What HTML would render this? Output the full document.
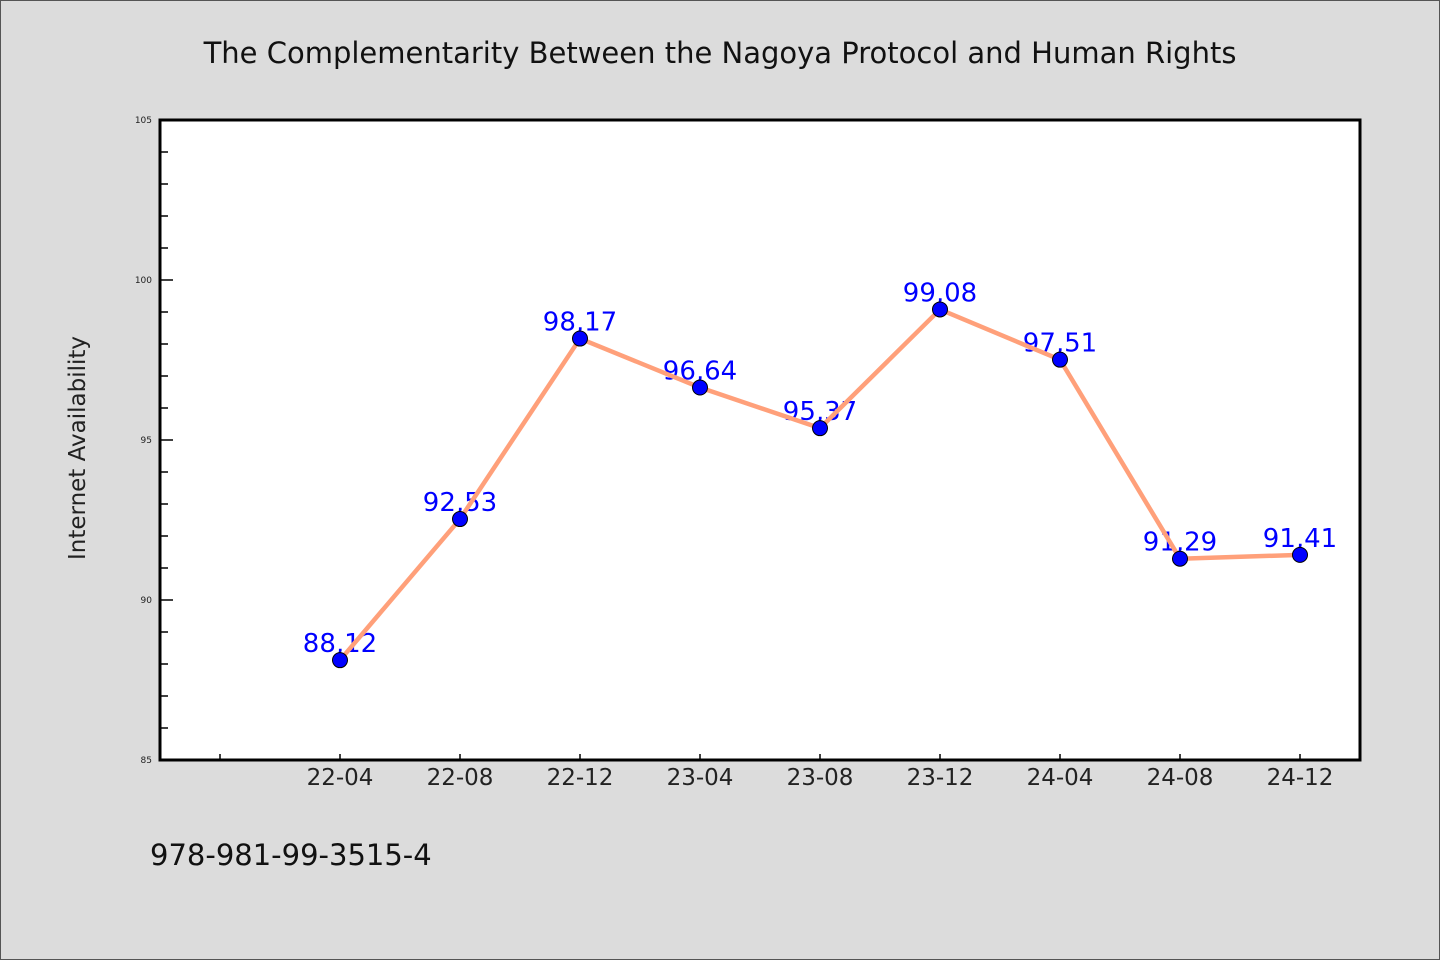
<!DOCTYPE html>
<html><head><meta charset="utf-8"><style>
html,body{margin:0;padding:0;background:#dcdcdc;}
svg{display:block;}
text{font-family:"DejaVu Sans","Liberation Sans",sans-serif;}
</style></head><body>
<svg id="chart" width="1440" height="960">
<rect x="0.5" y="0.5" width="1439" height="959" fill="#dcdcdc" stroke="#555"/>
<text x="720" y="63" text-anchor="middle" font-size="29" font-family="'DejaVu Sans Mono','Liberation Mono',monospace" fill="#111">The Complementarity Between the Nagoya Protocol and Human Rights</text>
<rect x="160" y="120" width="1200" height="640" fill="#fff"/>
<text transform="translate(85,448) rotate(-90)" text-anchor="middle" font-size="23" font-family="'DejaVu Sans Mono','Liberation Mono',monospace" fill="#222">Internet Availability</text>
<text x="150" y="865" font-size="29" fill="#111">978-981-99-3515-4</text>
<g id="axes"></g>
<g id="marks"></g>
<rect x="160" y="120" width="1200" height="640" fill="none" stroke="#000" stroke-width="3"/>
</svg>
<script>
const categories=["22-04","22-08","22-12","23-04","23-08","23-12","24-04","24-08","24-12"];
const values=[88.12,92.53,98.17,96.64,95.37,99.08,97.51,91.29,91.41];
const labels=["88.12","92.53","98.17","96.64","95.37","99.08","97.51","91.29","91.41"];
const yTicks=[85,90,95,100,105];
const NS="http://www.w3.org/2000/svg";
const yMin=85,yMax=105;
function y(v){return 760-(v-yMin)/(yMax-yMin)*640;}
function x(i){return 340+i*120;}
function mk(tag,attrs,parent){const e=document.createElementNS(NS,tag);for(const k in attrs)e.setAttribute(k,attrs[k]);parent.appendChild(e);return e;}
const axes=document.getElementById('axes'),marks=document.getElementById('marks');
for(let v=yMin;v<=yMax;v++){
  const major=yTicks.includes(v);
  const t=mk('line',{x1:160,x2:major?173:168,y1:y(v),y2:y(v),stroke:'#000','stroke-width':1.5},axes);
  
  
}
yTicks.forEach(v=>{
  const t=mk('text',{x:152,y:y(v)+3,'text-anchor':'end','font-size':9,fill:'#222'},axes);
  t.textContent=v;
  
  
});
for(let i=-1;i<categories.length;i++){
  const t=mk('line',{x1:x(i),x2:x(i),y1:760,y2:754,stroke:'#000','stroke-width':1.5},axes);
  
  
}
categories.forEach((c,i)=>{
  const t=mk('text',{x:x(i),y:785,'text-anchor':'middle','font-size':23,fill:'#222'},axes);
  t.textContent=c;
  
  
});
values.forEach((v,i)=>{
  const t=mk('text',{x:x(i),y:y(v)-8,'text-anchor':'middle','font-size':26,fill:'#0000ff'},marks);
  t.textContent=labels[i].replace('.',',');
  
  
});
const pl=mk('polyline',{points:values.map((v,i)=>x(i)+','+y(v)).join(' '),fill:'none',stroke:'#ffa07a','stroke-width':4.5,'stroke-linejoin':'round'},marks);


values.forEach((v,i)=>{
  const c=mk('circle',{cx:x(i),cy:y(v),r:7.5,fill:'#0000ff',stroke:'#000','stroke-width':1},marks);
  
  
});
</script>
</body></html>
